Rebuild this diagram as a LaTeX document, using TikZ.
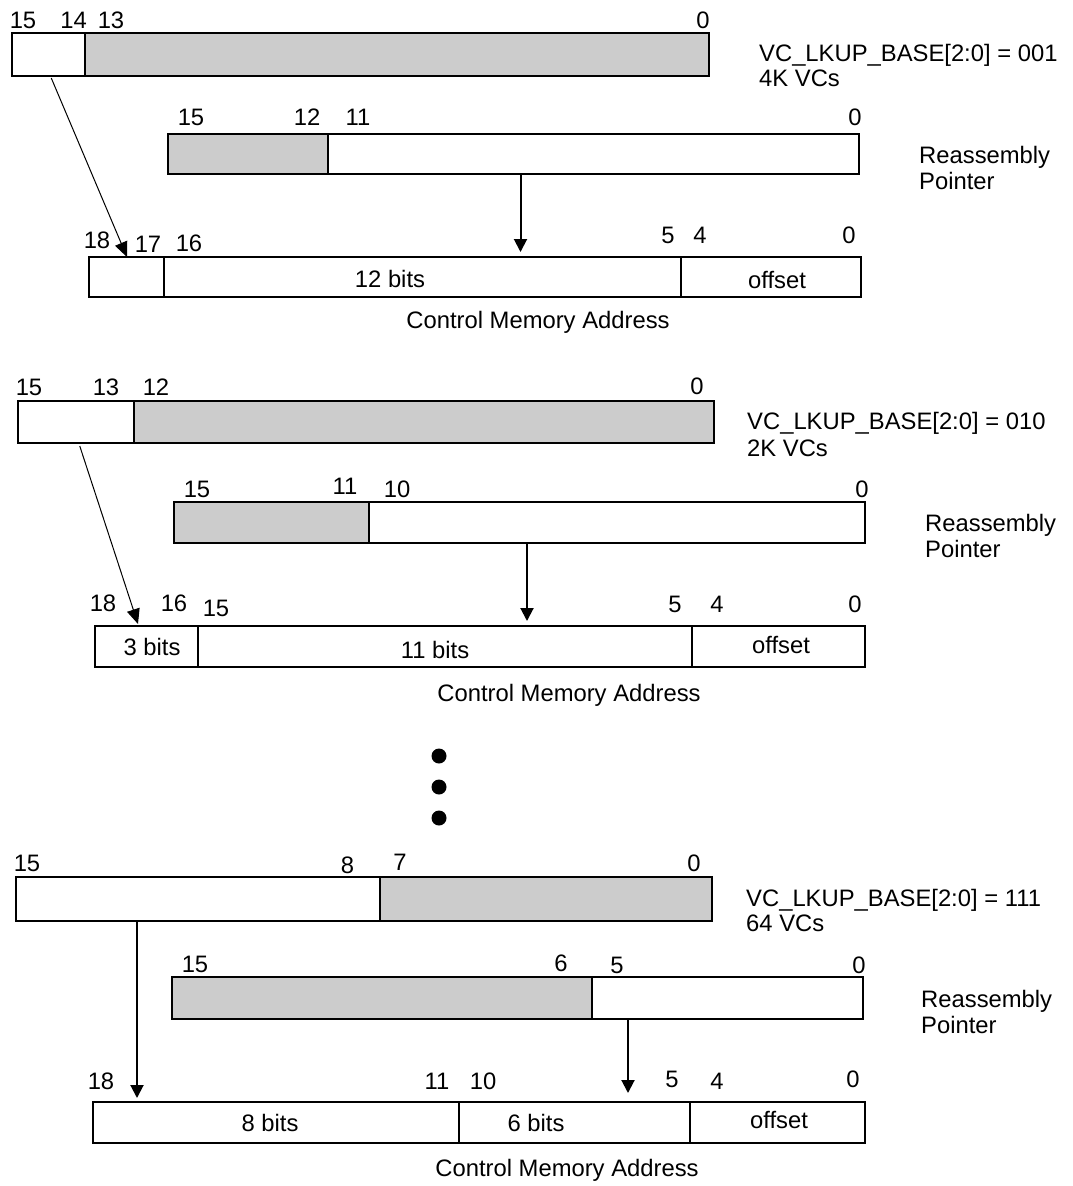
\documentclass[tikz,border=0pt]{standalone}
\usepackage{fontspec}
\setmainfont{Liberation Sans}
\usetikzlibrary{arrows.meta}
\definecolor{barfill}{HTML}{CCCCCC}
\newcommand\lblfont{\fontsize{23.8}{28}\selectfont}
\tikzset{
  fld/.style={draw, line width=2pt, inner sep=0pt, outer sep=0pt, anchor=north west, fill=white},
  gry/.style={fill=barfill},
  txt/.style={inner sep=0pt, text height=17pt, text depth=0pt, font=\lblfont},
  ltxt/.style={txt, anchor=west},
  arr/.style={line width=2pt, -{Triangle[width=13pt,length=13pt]}},
  darr/.style={line width=1pt, -{Triangle[width=13pt,length=15pt]}},
  dot/.style={circle, fill=black, inner sep=0pt, minimum size=15pt}
}
\begin{document}
\begin{tikzpicture}[x=1pt,y=-1pt]
\useasboundingbox (0,0) rectangle (1072,1186);
% ---------------- Section 1 ----------------
\node[fld, minimum width=73.5pt, minimum height=43pt] (a1L) at (11.5,33) {};
\node[fld, gry, minimum width=624pt, minimum height=43pt] (a1R) at (85,33) {};
\node[fld, gry, minimum width=160.5pt, minimum height=40pt] (r1L) at (167.5,134) {};
\node[fld, minimum width=530.5pt, minimum height=40pt] (r1R) at (328,134) {};
\node[fld, minimum width=75pt, minimum height=40pt] (c1a) at (89,257) {};
\node[fld, minimum width=517pt, minimum height=40pt] (c1b) at (164,257) {};
\node[fld, minimum width=180pt, minimum height=40pt] (c1c) at (681,257) {};
\node[txt] (n1a) at (23,19.5) {15};
\node[txt] (n1b) at (73.7,19.5) {14};
\node[txt] (n1c) at (111,19.5) {13};
\node[txt] (n1d) at (703,19.5) {0};
\node[txt] (n1e) at (191,117) {15};
\node[txt] (n1f) at (307,117) {12};
\node[txt] (n1g) at (358,117) {11};
\node[txt] (n1h) at (855,117) {0};
\node[txt] (n1i) at (97,240) {18};
\node[txt] (n1j) at (148,243.5) {17};
\node[txt] (n1k) at (189,243) {16};
\node[txt] (n1l) at (668,235) {5};
\node[txt] (n1m) at (700,235) {4};
\node[txt] (n1n) at (849,235) {0};
\node[txt] (b1a) at (390,279) {12 bits};
\node[txt] (b1b) at (777,280) {offset};
\node[txt] (cm1) at (538,320) {Control Memory Address};
\node[ltxt] (vc1) at (759,53) {VC\_LKUP\_BASE[2:0] = 001};
\node[ltxt] (vn1) at (759,78) {4K VCs};
\node[ltxt] (ra1) at (919,155) {Reassembly};
\node[ltxt] (po1) at (919,181) {Pointer};
\draw[darr] ([xshift=3pt,yshift=-2pt]a1L.south) -- ([xshift=0.5pt]c1a.north);
\path ([xshift=-72.75pt]r1R.south) coordinate (p1);
\draw[arr, shorten >=5pt] (p1) -- (p1 |- c1b.north);
% ---------------- Section 2 ----------------
\node[fld, minimum width=116.5pt, minimum height=42pt] (a2L) at (17.5,401) {};
\node[fld, gry, minimum width=580pt, minimum height=42pt] (a2R) at (134,401) {};
\node[fld, gry, minimum width=195pt, minimum height=41pt] (r2L) at (174,502) {};
\node[fld, minimum width=496pt, minimum height=41pt] (r2R) at (369,502) {};
\node[fld, minimum width=103pt, minimum height=41pt] (c2a) at (95,626) {};
\node[fld, minimum width=494pt, minimum height=41pt] (c2b) at (198,626) {};
\node[fld, minimum width=173pt, minimum height=41pt] (c2c) at (692,626) {};
\node[txt] (n2a) at (29,387) {15};
\node[txt] (n2b) at (106,387) {13};
\node[txt] (n2c) at (156,387) {12};
\node[txt] (n2d) at (697,386) {0};
\node[txt] (n2e) at (197,489) {15};
\node[txt] (n2f) at (345,486) {11};
\node[txt] (n2g) at (397,489) {10};
\node[txt] (n2h) at (862,489) {0};
\node[txt] (n2i) at (103,603) {18};
\node[txt] (n2j) at (174,603) {16};
\node[txt] (n2k) at (216,608) {15};
\node[txt] (n2l) at (675,604) {5};
\node[txt] (n2m) at (717,604) {4};
\node[txt] (n2n) at (855,604) {0};
\node[txt] (b2a) at (152,647) {3 bits};
\node[txt] (b2b) at (435,650) {11 bits};
\node[txt] (b2c) at (781,645) {offset};
\node[txt] (cm2) at (569,693) {Control Memory Address};
\node[ltxt] (vc2) at (747,421) {VC\_LKUP\_BASE[2:0] = 010};
\node[ltxt] (vn2) at (747,448) {2K VCs};
\node[ltxt] (ra2) at (925,523) {Reassembly};
\node[ltxt] (po2) at (925,549) {Pointer};
\draw[darr] ([xshift=4pt,yshift=-3pt]a2L.south) -- ([xshift=-8.5pt,yshift=2pt]c2a.north);
\path ([xshift=-90pt]r2R.south) coordinate (p2);
\draw[arr, shorten >=5pt] (p2) -- (p2 |- c2b.north);
% ---------------- dots ----------------
\node[dot] (d1) at (439,756) {};
\node[dot] (d2) at (439,787) {};
\node[dot] (d3) at (439,818) {};
% ---------------- Section 3 ----------------
\node[fld, minimum width=364.5pt, minimum height=44pt] (a3L) at (15.5,877) {};
\node[fld, gry, minimum width=332pt, minimum height=44pt] (a3R) at (380,877) {};
\node[fld, gry, minimum width=420pt, minimum height=42pt] (r3L) at (172,977) {};
\node[fld, minimum width=271pt, minimum height=42pt] (r3R) at (592,977) {};
\node[fld, minimum width=366pt, minimum height=41pt] (c3a) at (93,1102) {};
\node[fld, minimum width=231pt, minimum height=41pt] (c3b) at (459,1102) {};
\node[fld, minimum width=175pt, minimum height=41pt] (c3c) at (690,1102) {};
\node[txt] (n3a) at (27,863) {15};
\node[txt] (n3b) at (347.5,865) {8};
\node[txt] (n3c) at (400,862) {7};
\node[txt] (n3d) at (694,863) {0};
\node[txt] (n3e) at (195,964) {15};
\node[txt] (n3f) at (561,963) {6};
\node[txt] (n3g) at (617,965) {5};
\node[txt] (n3h) at (859,965) {0};
\node[txt] (n3i) at (101,1081) {18};
\node[txt] (n3j) at (437,1081) {11};
\node[txt] (n3k) at (483,1081) {10};
\node[txt] (n3l) at (672,1079) {5};
\node[txt] (n3m) at (717,1081) {4};
\node[txt] (n3n) at (853,1079) {0};
\node[txt] (b3a) at (270,1123) {8 bits};
\node[txt] (b3b) at (536,1123) {6 bits};
\node[txt] (b3c) at (779,1120) {offset};
\node[txt] (cm3) at (567,1168) {Control Memory Address};
\node[ltxt] (vc3) at (746,898) {VC\_LKUP\_BASE[2:0] = 111};
\node[ltxt] (vn3) at (746,923) {64 VCs};
\node[ltxt] (ra3) at (921,999) {Reassembly};
\node[ltxt] (po3) at (921,1025) {Pointer};
\path ([xshift=-60.75pt]a3L.south) coordinate (p3a);
\draw[arr, shorten >=4pt] (p3a) -- (p3a |- c3a.north);
\path ([xshift=-99.5pt]r3R.south) coordinate (p3b);
\draw[arr, shorten >=9pt] (p3b) -- (p3b |- c3b.north);
\end{tikzpicture}
\end{document}
